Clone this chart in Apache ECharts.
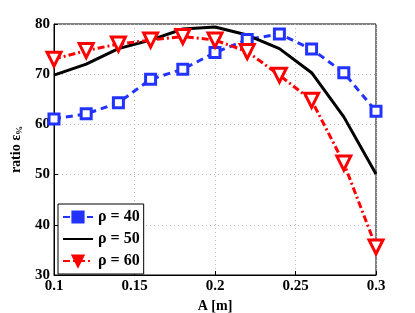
<!DOCTYPE html>
<html><head><meta charset="utf-8">
<script src="https://cdn.jsdelivr.net/npm/echarts@6/dist/echarts.min.js"></script>
<style>html,body{margin:0;padding:0;background:#fff}#c{width:415px;height:313px}</style>
</head><body><div id="c"></div>
<script>
var xValues = [0.1, 0.12, 0.14, 0.16, 0.18, 0.2, 0.22, 0.24, 0.26, 0.28, 0.3];
var rho40 = [61.1, 62.1, 64.3, 69.0, 71.0, 74.3, 76.9, 78.0, 75.0, 70.3, 62.6];
var rho50 = [69.8, 72.0, 75.1, 76.8, 79.0, 79.4, 77.8, 75.1, 70.3, 61.5, 50.1];
var rho60 = [73.0, 74.7, 76.0, 76.8, 77.5, 76.8, 74.5, 69.8, 64.8, 52.3, 35.6];
var seriesNames = ['ρ = 40', 'ρ = 50', 'ρ = 60'];
var xTicks = [0.1, 0.15, 0.2, 0.25, 0.3];

function pairs(v){ return xValues.map(function(x,i){ return [x, v[i]]; }); }
var font = 'Liberation Serif';
var chart = echarts.init(document.getElementById('c'));
chart.setOption({
  animation: false,
  grid: {left: 54, right: 39, top: 24, bottom: 38, show: true, borderColor: '#000', borderWidth: 1,
         outerBoundsMode: 'none', containLabel: false},
  legend: {
    left: 58, top: 204, orient: 'vertical', itemWidth: 30, itemHeight: 14, itemGap: 6,
    backgroundColor: '#fff', borderColor: '#000', borderWidth: 1, padding: [5, 4, 5, 4],
    textStyle: {fontFamily: font, fontWeight: 'bold', fontSize: 16, color: '#000'},
    data: [
      {name: seriesNames[0], itemStyle: {color: '#2233ff'}},
      {name: seriesNames[1], itemStyle: {color: 'rgba(0,0,0,0)', borderColor: 'rgba(0,0,0,0)', opacity: 0}},
      {name: seriesNames[2], itemStyle: {color: '#ff0000'}}
    ]
  },
  xAxis: {
    type: 'value', min: 0.1, max: 0.3, interval: 0.05,
    name: 'A [m]', nameLocation: 'middle', nameGap: 16,
    nameTextStyle: {fontFamily: font, fontWeight: 'bold', fontSize: 14, color: '#000'},
    axisLine: {lineStyle: {color: '#000'}},
    axisTick: {inside: true, length: 4, lineStyle: {color: '#000'}},
    axisLabel: {fontFamily: font, fontWeight: 'bold', fontSize: 15, color: '#000', margin: 4,
      formatter: function(v){ return String(+v.toFixed(2)); }},
    splitLine: {show: true, lineStyle: {color: '#bbb', type: [1, 3]}}
  },
  yAxis: {
    type: 'value', min: 30, max: 80, interval: 10,
    name: '{m|ratio ε}{s|%}', nameLocation: 'middle', nameGap: 30, nameRotate: 90,
    nameTextStyle: {rich: {
      m: {fontFamily: font, fontWeight: 'bold', fontSize: 14, color: '#000'},
      s: {fontFamily: font, fontWeight: 'bold', fontSize: 9, color: '#000', padding: [6, 0, 0, 0]}
    }},
    axisLine: {lineStyle: {color: '#000'}},
    axisTick: {inside: true, length: 4, lineStyle: {color: '#000'}},
    axisLabel: {fontFamily: font, fontWeight: 'bold', fontSize: 15, color: '#000', margin: 4},
    splitLine: {show: true, lineStyle: {color: '#bbb', type: [1, 3]}}
  },
  series: [
    {name: seriesNames[0], type: 'line', data: pairs(rho40), symbol: 'rect', symbolSize: 10,
     color: '#2233ff',
     lineStyle: {color: '#2233ff', width: 3, type: [7, 5]},
     itemStyle: {color: '#fff', borderColor: '#2233ff', borderWidth: 3}},
    {name: seriesNames[1], type: 'line', data: pairs(rho50), symbol: 'none',
     color: '#000',
     lineStyle: {color: '#000', width: 3}},
    {name: seriesNames[2], type: 'line', data: pairs(rho60), symbol: 'triangle', symbolRotate: 180, symbolSize: 14,
     color: '#ff0000',
     lineStyle: {color: '#ff0000', width: 3, type: [7, 3, 2, 3]},
     itemStyle: {color: '#fff', borderColor: '#ff0000', borderWidth: 3}}
  ]
});
</script></body></html>
